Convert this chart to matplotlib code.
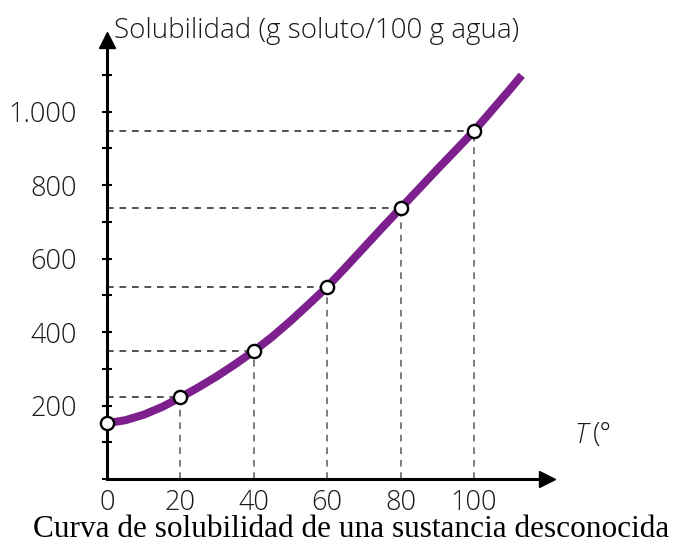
import numpy as np
import matplotlib.pyplot as plt
from matplotlib.ticker import MultipleLocator, FixedLocator

# measured points (temperature, solubility)
temps = [0, 20, 40, 60, 80, 100]
solub = [152, 222, 348, 523, 737, 947]

# curve
curve_t = [0, 5, 10, 15, 20, 25, 30, 35, 40, 45, 50, 55, 60, 65, 70, 75,
           80, 85, 90, 95, 100, 105, 110, 113]
curve_s = [152, 160, 175, 196, 222, 250, 280, 313, 348, 387, 430, 476, 523,
           576, 630, 684, 737, 790, 843, 895, 947, 1005, 1063, 1099]

y_ticks = [200, 400, 600, 800, 1000]
y_labels = ["200", "400", "600", "800", "1.000"]
x_ticks = [0, 20, 40, 60, 80, 100]
x_labels = ["0", "20", "40", "60", "80", "100"]

PURPLE = "#7d1f8c"
FONT = "Open Sans"
WEIGHT = 300
TXT = "#1a1a1a"
SIZE = 19.5

fig = plt.figure(figsize=(6.82, 5.46), dpi=100)
ax = fig.add_axes([0.1569, 0.1227, 0.6457, 0.804])
ax.set_xlim(0, 120)
ax.set_ylim(0, 1195)

for sp in ["top", "right"]:
    ax.spines[sp].set_visible(False)
for sp in ["left", "bottom"]:
    ax.spines[sp].set_linewidth(2.2)
ax.plot(1, 0, ">k", ms=11, transform=ax.get_yaxis_transform(), clip_on=False)
ax.plot(0, 1, "^k", ms=11, transform=ax.get_xaxis_transform(), clip_on=False)

# guide lines
for t, s in zip(temps, solub):
    ax.plot([0, t], [s, s], ls=(0, (4, 3.5)), color="#333333", lw=1.2, zorder=1)
    ax.plot([t, t], [0, s], ls=(0, (4, 3.5)), color="#666666", lw=1.2, zorder=1)

ax.plot(curve_t, curve_s, color=PURPLE, lw=5.8, solid_capstyle="butt", zorder=2)
ax.plot(temps, solub, "o", ms=9.5, mfc="white", mec="black", mew=1.7,
        zorder=3, clip_on=False)

ax.yaxis.set_major_locator(FixedLocator(y_ticks))
ax.set_yticklabels(y_labels)
ax.yaxis.set_minor_locator(MultipleLocator(100))
ax.tick_params(axis="y", which="both", direction="inout", length=7, width=1.5,
               pad=18, labelsize=SIZE)
ax.xaxis.set_major_locator(FixedLocator(x_ticks))
ax.set_xticklabels(x_labels)
ax.tick_params(axis="x", length=0, pad=7, labelsize=SIZE)
for lab in ax.get_xticklabels() + ax.get_yticklabels():
    lab.set_family(FONT)
    lab.set_fontweight(WEIGHT)
    lab.set_color(TXT)

fig.text(0.464, 0.943, "Solubilidad (g soluto/100 g agua)", ha="center",
         va="center", fontsize=20, family=FONT, fontweight=WEIGHT, color=TXT)
fig.text(0.843, 0.203, "T", ha="left", va="center", fontsize=SIZE,
         family=FONT, fontweight=WEIGHT, style="italic", color=TXT)
fig.text(0.870, 0.203, "(°", ha="left", va="center", fontsize=SIZE,
         family=FONT, fontweight=WEIGHT, color=TXT)
fig.text(0.515, 0.03, "Curva de solubilidad de una sustancia desconocida",
         ha="center", va="center", fontsize=22.5, family="Liberation Serif")

fig.savefig("out.png", dpi=100)
